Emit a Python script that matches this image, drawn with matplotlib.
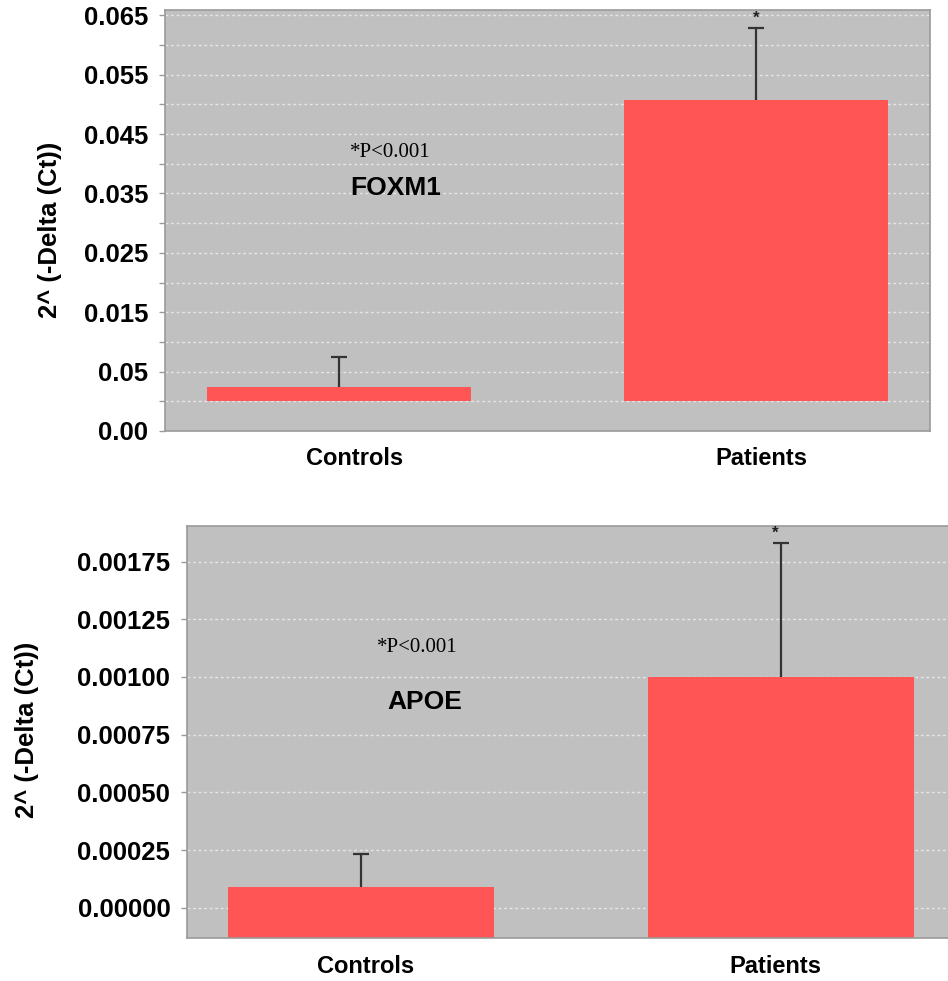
import matplotlib
matplotlib.use("Agg")
import matplotlib.pyplot as plt
import numpy as np

# ---------------- data ----------------
categories = ["Controls", "Patients"]

foxm1_means = [0.0024, 0.0507]
foxm1_err_up = [0.0051, 0.0122]
foxm1_tick_values = [-0.005, 0.005, 0.015, 0.025, 0.035, 0.045, 0.055, 0.065]
foxm1_tick_labels = ["0.00", "0.05", "0.015", "0.025", "0.035", "0.045", "0.055", "0.065"]

apoe_means = [0.000091, 0.001000]
apoe_err_up = [0.000140, 0.000579]
apoe_tick_values = [0.0, 0.00025, 0.0005, 0.00075, 0.001, 0.00125, 0.0015]
apoe_tick_labels = ["0.00000", "0.00025", "0.00050", "0.00075", "0.00100", "0.00125", "0.00175"]

ylabel_text = "2^ (-Delta (Ct))"
pval_text = "*P<0.001"

# ---------------- style ----------------
BAR = "#FF5555"
BG = "#C0C0C0"
GRID = "#E6E6E6"
SPINE = "#9A9A9A"
ERR = "#333333"
SANS = ["Liberation Sans", "DejaVu Sans"]
SERIF = ["Liberation Serif", "DejaVu Serif"]

fig = plt.figure(figsize=(9.48, 9.81), dpi=100)
fig.patch.set_facecolor("white")


def style_axes(ax):
    ax.set_facecolor(BG)
    for s in ax.spines.values():
        s.set_color(SPINE)
        s.set_linewidth(1.2)
    ax.tick_params(axis="x", length=0, labelbottom=False)
    ax.tick_params(axis="y", which="both", direction="out", length=4, width=1,
                   color=SPINE, pad=8)
    ax.set_axisbelow(True)


def draw(ax, means, errs, ylim, xlim, width, bottom):
    x = np.arange(len(categories))
    heights = [m - bottom for m in means]
    ax.bar(x, heights, width=width, bottom=bottom, color=BAR, zorder=2)
    _, caps, _ = ax.errorbar(x, means, yerr=[[0] * len(means), errs], fmt="none",
                             ecolor=ERR, elinewidth=1.6, capsize=5.8, capthick=1.6, zorder=3)
    for c in caps:
        if np.allclose(np.asarray(c.get_ydata(), dtype=float), means):
            c.set_visible(False)
    ax.set_xlim(*xlim)
    ax.set_ylim(*ylim)
    return x


# ---------------- top: FOXM1 ----------------
ax1 = fig.add_axes([0.1741, 0.5607, 0.8070, 0.4291])
style_axes(ax1)
x1 = draw(ax1, foxm1_means, foxm1_err_up, (-0.005, 0.0659), (-0.417, 1.417), 0.632, 0.0)
ax1.set_yticks(foxm1_tick_values)
ax1.set_yticklabels(foxm1_tick_labels, fontsize=18.5, fontweight="bold", family=SANS)
minor = [(a + b) / 2 for a, b in zip(foxm1_tick_values[:-1], foxm1_tick_values[1:])]
ax1.set_yticks(minor, minor=True)
ax1.yaxis.grid(True, which="both", color=GRID, linestyle=(0, (2, 2)), linewidth=1.0, zorder=0)
ax1.text(x1[1], foxm1_means[1] + foxm1_err_up[1] + 0.0003, "*", ha="center", va="bottom",
         fontsize=12, fontweight="bold", family=SANS, color="#202020")
ax1.text(0.242, 0.662, pval_text, transform=ax1.transAxes, ha="left", va="center",
         fontsize=15, family=SERIF, color="#000000")
ax1.text(0.242, 0.578, "FOXM1", transform=ax1.transAxes, ha="left", va="center",
         fontsize=19, fontweight="bold", family=SANS, color="#000000")
for xc, lab in zip([0.248, 0.780], categories):
    ax1.text(xc, -0.0665, lab, transform=ax1.transAxes, ha="center", va="center",
             fontsize=17, fontweight="bold", family=SANS, color="#000000")

# ---------------- bottom: APOE ----------------
ax2 = fig.add_axes([0.1973, 0.0438, 0.8030, 0.4200])
style_axes(ax2)
y0 = -0.000131
x2 = draw(ax2, apoe_means, apoe_err_up, (y0, 0.001654), (-0.414, 1.398), 0.633, y0)
ax2.set_yticks(apoe_tick_values)
ax2.set_yticklabels(apoe_tick_labels, fontsize=18.5, fontweight="bold", family=SANS)
ax2.yaxis.grid(True, which="major", color=GRID, linestyle=(0, (2, 2)), linewidth=1.0, zorder=0)
ax2.spines["right"].set_visible(False)
ax2.text(x2[1] - 0.015, apoe_means[1] + apoe_err_up[1] + 0.000010, "*", ha="center", va="bottom",
         fontsize=12, fontweight="bold", family=SANS, color="#202020")
ax2.text(0.2497, 0.706, pval_text, transform=ax2.transAxes, ha="left", va="center",
         fontsize=15, family=SERIF, color="#000000")
ax2.text(0.263, 0.573, "APOE", transform=ax2.transAxes, ha="left", va="center",
         fontsize=19, fontweight="bold", family=SANS, color="#000000")
for xc, lab in zip([0.234, 0.773], categories):
    ax2.text(xc, -0.070, lab, transform=ax2.transAxes, ha="center", va="center",
             fontsize=17, fontweight="bold", family=SANS, color="#000000")

# y labels
fig.text(50 / 948, 1 - 230 / 981, ylabel_text, rotation=90, ha="center", va="center",
         fontsize=18.5, fontweight="bold", family=SANS, color="#000000")
fig.text(27 / 948, 1 - 730 / 981, ylabel_text, rotation=90, ha="center", va="center",
         fontsize=18.5, fontweight="bold", family=SANS, color="#000000")

fig.savefig("out.png", dpi=100, facecolor="white")
